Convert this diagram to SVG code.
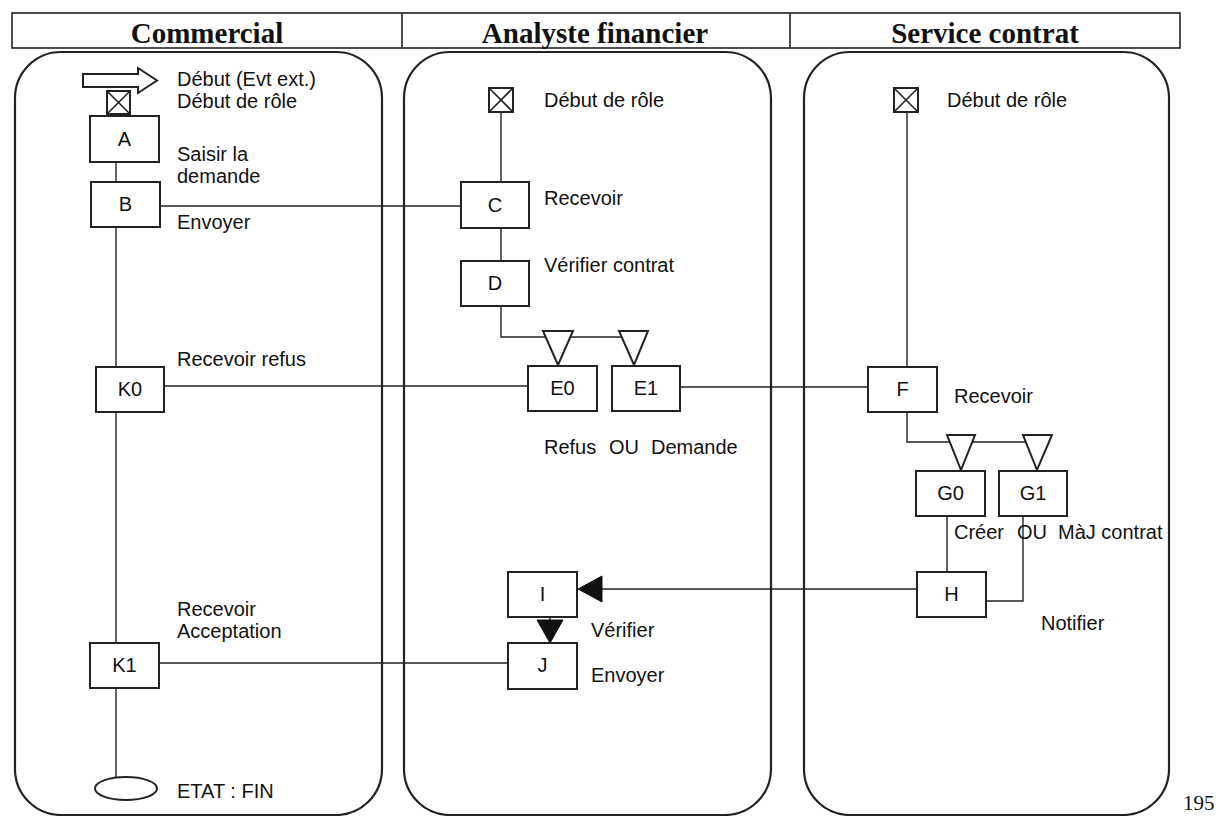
<svg xmlns="http://www.w3.org/2000/svg" width="1223" height="816" viewBox="0 0 1223 816">
<defs>
<style>
.hdr{font-family:"Liberation Serif","Times New Roman",serif;font-weight:bold;font-size:29px;fill:#111;text-anchor:middle}
.t{font-family:"Liberation Sans",Arial,sans-serif;font-size:20px;fill:#111}
.bl{font-family:"Liberation Sans",Arial,sans-serif;font-size:20px;fill:#111;text-anchor:middle}
.box{fill:#fff;stroke:#222;stroke-width:2}
.lane{fill:none;stroke:#222;stroke-width:2.2}
.c{fill:none;stroke:#222;stroke-width:1.4}
.gw{fill:#fff;stroke:#222;stroke-width:2}
.fa{fill:#111;stroke:#111;stroke-width:1}
</style>
</defs>
<rect width="1223" height="816" fill="#fff"/>

<g id="header">
<rect x="12" y="13" width="1168" height="35" fill="none" stroke="#222" stroke-width="1.6"/>
<line x1="402" y1="13" x2="402" y2="48" stroke="#222" stroke-width="1.6"/>
<line x1="790" y1="13" x2="790" y2="48" stroke="#222" stroke-width="1.6"/>
<text class="hdr" x="207" y="43">Commercial</text>
<text class="hdr" x="595" y="43">Analyste financier</text>
<text class="hdr" x="985" y="43">Service contrat</text>
</g>

<g id="lanes">
<rect class="lane" x="15" y="52" width="367" height="763" rx="46" ry="46"/>
<rect class="lane" x="404" y="52" width="367" height="763" rx="46" ry="46"/>
<rect class="lane" x="804" y="52" width="365" height="763" rx="46" ry="46"/>
</g>

<g id="connectors">
<line class="c" x1="116" y1="162" x2="116" y2="182"/>
<line class="c" x1="116" y1="227" x2="116" y2="367"/>
<line class="c" x1="116" y1="412" x2="116" y2="643"/>
<line class="c" x1="116" y1="688" x2="116" y2="777"/>
<line class="c" x1="160" y1="206" x2="461" y2="206"/>
<line class="c" x1="501" y1="112" x2="501" y2="182"/>
<line class="c" x1="501" y1="228" x2="501" y2="261"/>
<polyline class="c" points="501,306 501,337 646,337"/>
<line class="c" x1="164" y1="386" x2="528" y2="386"/>
<line class="c" x1="680" y1="387" x2="868" y2="387"/>
<line class="c" x1="907" y1="113" x2="907" y2="367"/>
<polyline class="c" points="907,412 907,442 1049,442"/>
<line class="c" x1="947" y1="516" x2="947" y2="572"/>
<polyline class="c" points="1023,516 1023,601 986,601"/>
<line class="c" x1="917" y1="589" x2="600" y2="589"/>
<polygon class="fa" points="578,589 602,576 602,602"/>
<line class="c" x1="550" y1="617" x2="550" y2="621"/>
<polygon class="fa" points="537,620 563,620 550,643"/>
<line class="c" x1="159" y1="663" x2="508" y2="663"/>
</g>

<g id="start-ext">
<polygon points="83,74 138,74 138,68 157,80.5 138,93 138,87 83,87" fill="#fff" stroke="#222" stroke-width="2"/>
<text class="t" x="177" y="86">Début (Evt ext.)</text>
</g>
<g id="start-commercial">
<rect x="107" y="91" width="23" height="23" fill="#fff" stroke="#222" stroke-width="2"/>
<path d="M107,91 L130,114 M130,91 L107,114" stroke="#222" stroke-width="1.6"/>
<text class="t" x="177" y="108">Début de rôle</text>
</g>
<g id="A">
<rect class="box" x="90" y="116" width="69" height="46"/>
<text class="bl" x="124.5" y="146">A</text>
<text class="t" x="177" y="161">Saisir la</text>
<text class="t" x="177" y="183">demande</text>
</g>
<g id="B">
<rect class="box" x="91" y="182" width="69" height="45"/>
<text class="bl" x="125.5" y="211">B</text>
<text class="t" x="177" y="229">Envoyer</text>
</g>
<g id="K0">
<rect class="box" x="96" y="367" width="68" height="45"/>
<text class="bl" x="130" y="396">K0</text>
<text class="t" x="177" y="366">Recevoir refus</text>
</g>
<g id="K1">
<rect class="box" x="90" y="643" width="69" height="45"/>
<text class="bl" x="124.5" y="672">K1</text>
<text class="t" x="177" y="616">Recevoir</text>
<text class="t" x="177" y="638">Acceptation</text>
</g>
<g id="end">
<ellipse cx="126" cy="788.5" rx="31" ry="11.5" fill="#fff" stroke="#222" stroke-width="2"/>
<text class="t" x="177" y="798">ETAT : FIN</text>
</g>

<g id="start-analyste">
<rect x="489" y="88" width="24" height="24" fill="#fff" stroke="#222" stroke-width="2"/>
<path d="M489,88 L513,112 M513,88 L489,112" stroke="#222" stroke-width="1.6"/>
<text class="t" x="544" y="107">Début de rôle</text>
</g>
<g id="C">
<rect class="box" x="461" y="182" width="68" height="46"/>
<text class="bl" x="495" y="212">C</text>
<text class="t" x="544" y="205">Recevoir</text>
</g>
<g id="D">
<rect class="box" x="461" y="261" width="68" height="45"/>
<text class="bl" x="495" y="290">D</text>
<text class="t" x="544" y="272">Vérifier contrat</text>
</g>
<g id="E0">
<polygon class="gw" points="543,331 573,331 558,365"/>
<rect class="box" x="528" y="366" width="69" height="45"/>
<text class="bl" x="562.5" y="395">E0</text>
</g>
<g id="E1">
<polygon class="gw" points="619,331 648,331 634,365"/>
<rect class="box" x="612" y="366" width="68" height="45"/>
<text class="bl" x="646" y="395">E1</text>
</g>
<g id="E-label">
<text class="t" x="544" y="454">Refus</text>
<text class="t" x="609" y="454">OU</text>
<text class="t" x="651" y="454">Demande</text>
</g>
<g id="I">
<rect class="box" x="508" y="572" width="69" height="45"/>
<text class="bl" x="542.5" y="601">I</text>
<text class="t" x="591" y="637">Vérifier</text>
</g>
<g id="J">
<rect class="box" x="508" y="643" width="69" height="46"/>
<text class="bl" x="542.5" y="672">J</text>
<text class="t" x="591" y="682">Envoyer</text>
</g>

<g id="start-service">
<rect x="894" y="88" width="24" height="24" fill="#fff" stroke="#222" stroke-width="2"/>
<path d="M894,88 L918,112 M918,88 L894,112" stroke="#222" stroke-width="1.6"/>
<text class="t" x="947" y="107">Début de rôle</text>
</g>
<g id="F">
<rect class="box" x="868" y="367" width="69" height="45"/>
<text class="bl" x="902.5" y="396">F</text>
<text class="t" x="954" y="403">Recevoir</text>
</g>
<g id="G0">
<polygon class="gw" points="947,435 975,435 961,470"/>
<rect class="box" x="916" y="471" width="69" height="45"/>
<text class="bl" x="950.5" y="500">G0</text>
</g>
<g id="G1">
<polygon class="gw" points="1023,435 1052,435 1037,470"/>
<rect class="box" x="999" y="471" width="68" height="45"/>
<text class="bl" x="1033" y="500">G1</text>
</g>
<g id="G-label">
<text class="t" x="954" y="539">Créer</text>
<text class="t" x="1017" y="539">OU</text>
<text class="t" x="1058" y="539">MàJ contrat</text>
</g>
<g id="H">
<rect class="box" x="917" y="572" width="69" height="45"/>
<text class="bl" x="951.5" y="601">H</text>
<text class="t" x="1041" y="630">Notifier</text>
</g>

<text x="1183" y="810" font-family="Liberation Serif, serif" font-size="21" fill="#111">195</text>
</svg>
